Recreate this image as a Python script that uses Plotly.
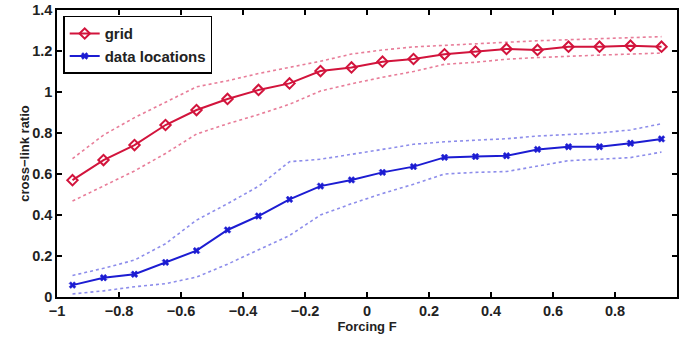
import plotly.graph_objects as go

# Forcing values (bin centres)
forcing = [-0.95, -0.85, -0.75, -0.65, -0.55, -0.45, -0.35, -0.25, -0.15, -0.05,
           0.05, 0.15, 0.25, 0.35, 0.45, 0.55, 0.65, 0.75, 0.85, 0.95]

# Cross-link ratio on the grid: mean and spread bounds
grid_mean = [0.57, 0.668, 0.741, 0.839, 0.912, 0.966, 1.01, 1.042, 1.102, 1.12,
             1.148, 1.161, 1.184, 1.197, 1.21, 1.205, 1.221, 1.221, 1.226, 1.221]
grid_upper = [0.675, 0.79, 0.875, 0.95, 1.025, 1.055, 1.09, 1.12, 1.15, 1.185,
              1.205, 1.22, 1.228, 1.235, 1.245, 1.25, 1.255, 1.26, 1.265, 1.27]
grid_lower = [0.468, 0.54, 0.615, 0.70, 0.795, 0.845, 0.89, 0.94, 1.005, 1.04,
              1.072, 1.10, 1.135, 1.145, 1.16, 1.168, 1.175, 1.18, 1.185, 1.19]

# Cross-link ratio at data locations: mean and spread bounds
data_mean = [0.058, 0.094, 0.111, 0.169, 0.226, 0.327, 0.395, 0.476, 0.541, 0.571,
             0.608, 0.636, 0.681, 0.685, 0.689, 0.72, 0.733, 0.733, 0.75, 0.771]
data_upper = [0.105, 0.14, 0.18, 0.26, 0.375, 0.455, 0.54, 0.66, 0.672, 0.695,
              0.72, 0.745, 0.757, 0.765, 0.772, 0.785, 0.792, 0.80, 0.815, 0.845]
data_lower = [0.015, 0.03, 0.05, 0.065, 0.097, 0.16, 0.23, 0.30, 0.40, 0.455,
              0.505, 0.55, 0.60, 0.608, 0.612, 0.64, 0.665, 0.672, 0.68, 0.707]

x_ticks = [-1, -0.8, -0.6, -0.4, -0.2, 0, 0.2, 0.4, 0.6, 0.8, 1]
y_ticks = [0, 0.2, 0.4, 0.6, 0.8, 1, 1.2, 1.4]

RED = "#d2143c"
BLUE = "#1c1cd2"
RED_DOT = "rgba(222, 70, 110, 0.7)"
BLUE_DOT = "rgba(80, 80, 225, 0.65)"

fig = go.Figure()

for bound in (grid_upper, grid_lower):
    fig.add_trace(go.Scatter(x=forcing, y=bound, mode="lines", showlegend=False,
                             line=dict(color=RED_DOT, width=1.6, dash="dot"),
                             hoverinfo="skip"))
for bound in (data_upper, data_lower):
    fig.add_trace(go.Scatter(x=forcing, y=bound, mode="lines", showlegend=False,
                             line=dict(color=BLUE_DOT, width=1.6, dash="dot"),
                             hoverinfo="skip"))

fig.add_trace(go.Scatter(x=forcing, y=grid_mean, mode="lines+markers", name="grid",
                         line=dict(color=RED, width=2),
                         marker=dict(symbol="diamond-open", size=8, color=RED,
                                     line=dict(width=2, color=RED))))
fig.add_trace(go.Scatter(x=forcing, y=data_mean, mode="lines+markers",
                         name="data locations",
                         line=dict(color=BLUE, width=2),
                         marker=dict(symbol="x", size=6, color=BLUE,
                                     line=dict(width=0.5, color=BLUE))))

tick_font = dict(family="Liberation Sans", size=14.5, color="#222", weight="bold")
title_font = dict(family="Liberation Sans", size=13, color="#222", weight="bold")

axis_common = dict(showline=True, linecolor="black", linewidth=1.5, mirror="ticks",
                   ticks="inside", ticklen=5, tickwidth=1.5, tickcolor="black",
                   showgrid=False, zeroline=False, tickfont=tick_font)

fig.update_xaxes(range=[-1, 1], tickvals=x_ticks,
                 title=dict(text="Forcing F", standoff=4, font=title_font),
                 **axis_common)
fig.update_yaxes(range=[0, 1.4], tickvals=y_ticks,
                 title=dict(text="cross\u2212link ratio", standoff=0, font=title_font),
                 **axis_common)

fig.update_layout(
    width=680, height=340,
    margin=dict(l=57, r=1, t=10, b=43),
    paper_bgcolor="white", plot_bgcolor="white",
    legend=dict(x=0.01, y=0.98, xanchor="left", yanchor="top",
                bgcolor="white", bordercolor="black", borderwidth=1.5,
                font=dict(family="Liberation Sans", size=15, color="#222",
                          weight="bold"),
                tracegroupgap=0, itemwidth=30),
)

fig.write_html("out.html")
